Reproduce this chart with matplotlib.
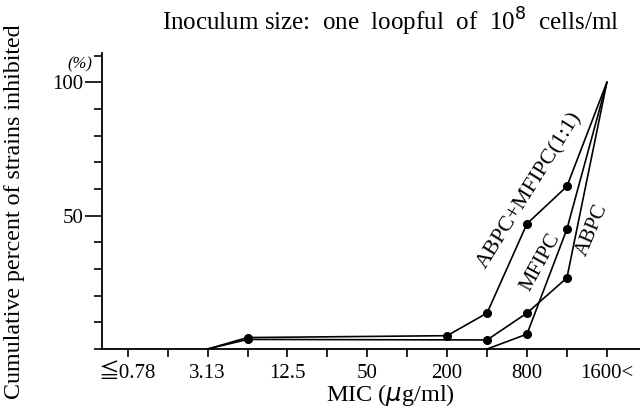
import matplotlib
matplotlib.use("Agg")
import matplotlib.pyplot as plt
from matplotlib.ticker import MultipleLocator

plt.rcParams['font.family'] = ['Liberation Serif', 'Noto Sans CJK JP', 'DejaVu Sans']

# MIC categories (index positions on a log2 scale)
mic_labels = ['≦0.78', '', '3.13', '', '12.5', '', '50', '', '200', '', '800', '', '1600<']

# cumulative % of strains inhibited
combo_idx = [2, 3, 8, 9, 10, 11, 12]
combo_pct = [0, 4.3, 5.0, 13.5, 47, 61, 100]

abpc_idx = [2, 3, 9, 10, 11, 12]
abpc_pct = [0, 3.6, 3.4, 13.5, 26.7, 100]

mfipc_idx = [9, 10, 11, 12]
mfipc_pct = [0, 5.6, 45, 100]

fig = plt.figure(figsize=(6.4, 4.16), dpi=100)
ax = fig.add_axes([0.159, 0.161, 0.841, 0.7115])

for xs, ys in [(combo_idx, combo_pct), (abpc_idx, abpc_pct), (mfipc_idx, mfipc_pct)]:
    ax.plot(xs, ys, color='black', lw=1.2, clip_on=False)
    # dots only at intermediate points
    ax.plot(xs[1:-1], ys[1:-1], 'o', color='black', ms=5.5, clip_on=False)

ax.set_xlim(-0.65, 12.83)
ax.set_ylim(0, 111)

ax.spines['top'].set_visible(False)
ax.spines['right'].set_visible(False)
ax.spines['left'].set_linewidth(1.3)
ax.spines['bottom'].set_linewidth(1.3)

ax.set_xticks(range(len(mic_labels)))
ax.set_xticklabels(mic_labels, fontsize=15)
ax.set_yticks([50, 100])
ax.set_yticklabels(['50', '100'], fontsize=15)
ax.yaxis.set_minor_locator(MultipleLocator(10))
ax.tick_params(axis='y', which='major', direction='out', length=12, width=1.2, pad=1)
ax.tick_params(axis='y', which='minor', direction='out', length=6, width=1.2)
ax.tick_params(axis='x', direction='out', length=6, width=1.2, pad=5)

ax.text(-1.2, 106.7, '(%)', fontsize=12, style='italic', ha='center', va='center')

ax.text(10.08, 59.6, 'ABPC+MFIPC(1:1)', fontsize=16, rotation=58, ha='center', va='center')
ax.text(10.33, 32.6, 'MFIPC', fontsize=15, rotation=61, ha='center', va='center')
ax.text(11.63, 44.6, 'ABPC', fontsize=15, rotation=67, ha='center', va='center')

fig.text(0.61, 0.947, 'Inoculum size:  one  loopful  of  10$^8$  cells/ml', fontsize=18, ha='center', va='center')
fig.text(0.61, 0.05, 'MIC ($\\mu$g/ml)', fontsize=17.5, ha='center', va='center')
fig.text(0.022, 0.49, 'Cumulative percent of strains inhibited', fontsize=17.3, rotation=90, ha='center', va='center')

fig.savefig('out.png', dpi=100)
